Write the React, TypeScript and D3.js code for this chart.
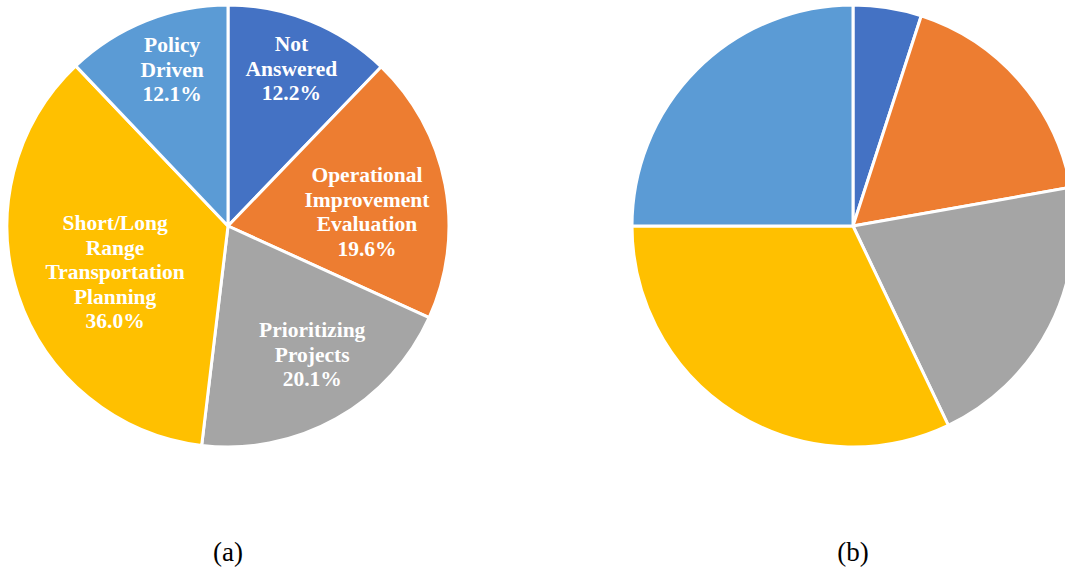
import React from "react";
import * as d3 from "d3";

const categoriesA = [
  ["Not", "Answered"],
  ["Operational", "Improvement", "Evaluation"],
  ["Prioritizing", "Projects"],
  ["Short/Long", "Range", "Transportation", "Planning"],
  ["Policy", "Driven"],
];
const valuesA = [12.2, 19.6, 20.1, 36.0, 12.1];
const valuesB = [5.0, 17.2, 20.7, 32.1, 25.0];
const colors = ["#4472C4", "#ED7D31", "#A5A5A5", "#FFC000", "#5B9BD5"];
const captions = ["(a)", "(b)"];

// label placement (layout only)
const labelRadiusFactorA = [0.767, 0.632, 0.697, 0.552, 0.751];
const labelAngleShiftDeg = [0, 5, -3.8, -3.9, 2.1];

const W = 1065;
const H = 573;
const R = 221;
const centers = [
  { x: 228, y: 226 },
  { x: 853, y: 226 },
];

function Pie({ values, cx, cy, labels }: { values: number[]; cx: number; cy: number; labels?: string[][] }) {
  const pie = d3.pie<number>().value((d) => d).sort(null);
  const arcs = pie(values);
  const arc = d3.arc<d3.PieArcDatum<number>>().innerRadius(0).outerRadius(R);
  return (
    <g transform={`translate(${cx},${cy})`}>
      {arcs.map((a, i) => (
        <path key={i} d={arc(a) || ""} fill={colors[i]} stroke="#fff" strokeWidth={3} strokeLinejoin="round" />
      ))}
      {labels &&
        arcs.map((a, i) => {
          const lr = R * labelRadiusFactorA[i];
          const ang = (a.startAngle + a.endAngle) / 2 + (labelAngleShiftDeg[i] * Math.PI) / 180;
          const x = lr * Math.sin(ang);
          const y = -lr * Math.cos(ang);
          const lines = [...labels[i], `${values[i].toFixed(1)}%`];
          const lh = 24.5;
          const y0 = y - ((lines.length - 1) * lh) / 2 + 7;
          return (
            <text
              key={"t" + i}
              x={x}
              textAnchor="middle"
              fill="#fff"
              fontFamily="'Liberation Serif', 'Times New Roman', serif"
              fontWeight="bold"
              fontSize={21.5}
            >
              {lines.map((ln, j) => (
                <tspan key={j} x={x} y={y0 + j * lh}>
                  {ln}
                </tspan>
              ))}
            </text>
          );
        })}
    </g>
  );
}

export default function App() {
  return (
    <svg
      width={W}
      height={H}
      style={{ position: "absolute", left: 0, top: 0, background: "#fff" }}
    >
      <Pie values={valuesA} cx={centers[0].x} cy={centers[0].y} labels={categoriesA} />
      <Pie values={valuesB} cx={centers[1].x} cy={centers[1].y} />
      {captions.map((c, i) => (
        <text
          key={c}
          x={centers[i].x}
          y={561}
          textAnchor="middle"
          fontFamily="'Liberation Serif', 'Times New Roman', serif"
          fontSize={27}
          fill="#000"
        >
          {c}
        </text>
      ))}
    </svg>
  );
}
